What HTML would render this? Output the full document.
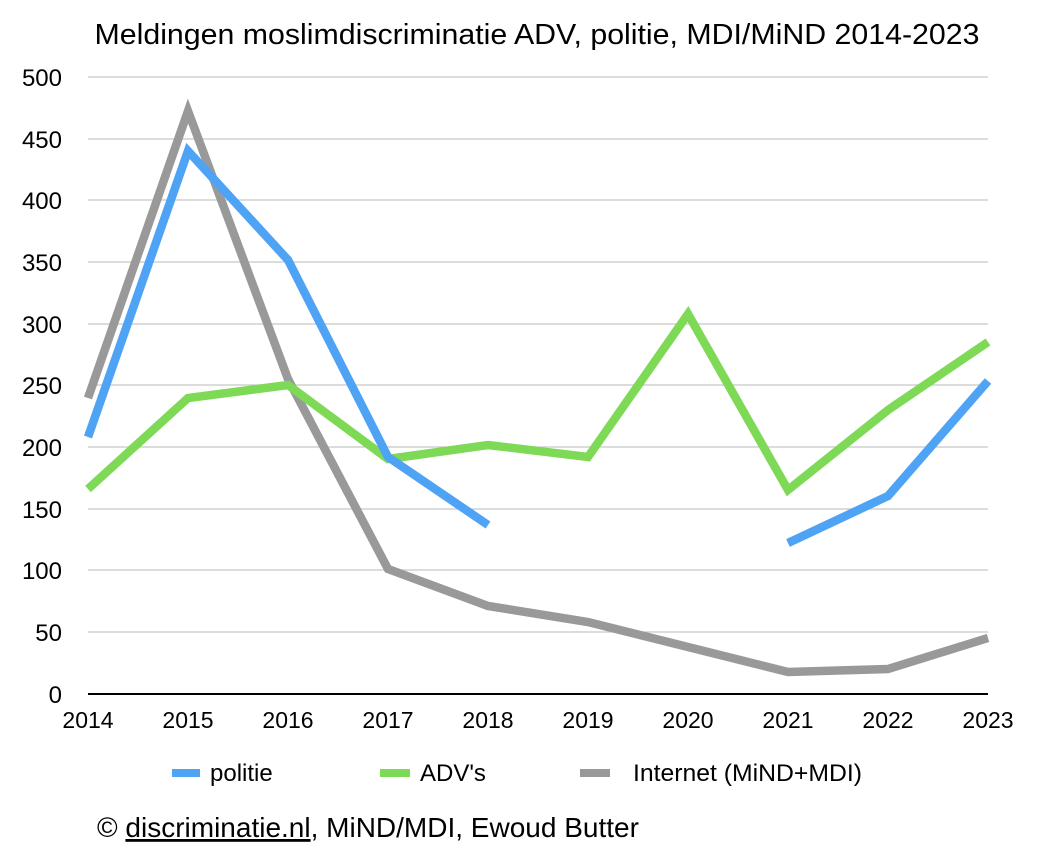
<!DOCTYPE html>
<html><head><meta charset="utf-8"><style>
body{margin:0;background:#fff}
svg text{font-family:"Liberation Sans",Arial,sans-serif;fill:#000}
</style></head><body>
<svg width="1056" height="858" viewBox="0 0 1056 858" xmlns="http://www.w3.org/2000/svg">
<text x="537" y="44" font-size="29" text-anchor="middle" textLength="885" lengthAdjust="spacingAndGlyphs">Meldingen moslimdiscriminatie ADV, politie, MDI/MiND 2014-2023</text>
<g stroke="#c8c8c8" stroke-width="1.2">
<line x1="88" x2="988" y1="77" y2="77"/><line x1="88" x2="988" y1="139" y2="139"/>
<line x1="88" x2="988" y1="200" y2="200"/><line x1="88" x2="988" y1="262" y2="262"/>
<line x1="88" x2="988" y1="324" y2="324"/><line x1="88" x2="988" y1="385" y2="385"/>
<line x1="88" x2="988" y1="447" y2="447"/><line x1="88" x2="988" y1="509" y2="509"/>
<line x1="88" x2="988" y1="570" y2="570"/><line x1="88" x2="988" y1="632" y2="632"/>
</g>
<line x1="88" x2="988" y1="694" y2="694" stroke="#000" stroke-width="2"/>
<g font-size="24" text-anchor="end">
<text x="62" y="86">500</text><text x="62" y="148">450</text><text x="62" y="209">400</text>
<text x="62" y="271">350</text><text x="62" y="333">300</text><text x="62" y="394">250</text>
<text x="62" y="456">200</text><text x="62" y="518">150</text><text x="62" y="579">100</text>
<text x="62" y="641">50</text><text x="62" y="703">0</text>
</g>
<g font-size="23" text-anchor="middle">
<text x="88" y="728">2014</text><text x="188" y="728">2015</text><text x="288" y="728">2016</text>
<text x="388" y="728">2017</text><text x="488" y="728">2018</text><text x="588" y="728">2019</text>
<text x="688" y="728">2020</text><text x="788" y="728">2021</text><text x="888" y="728">2022</text>
<text x="988" y="728">2023</text>
</g>
<g fill="none" stroke-width="8.5" stroke-linejoin="miter">
<polyline stroke="#999999" points="88,398 188,111 288,379 388,569 488,606 588,622 688,647 788,672 888,669 988,638"/>
<polyline stroke="#7ed957" points="88,489 188,398 288,385 388,459 488,445 588,457 688,314 788,490 888,410 988,342"/>
<polyline stroke="#4ea3f5" points="88,437 188,151 288,260 388,457 488,525"/>
<polyline stroke="#4ea3f5" points="788,543 888,496 988,381"/>
</g>
<g stroke-width="8">
<line x1="172" x2="200" y1="773" y2="773" stroke="#4ea3f5"/>
<line x1="380" x2="410" y1="773" y2="773" stroke="#7ed957"/>
<line x1="580" x2="610" y1="773" y2="773" stroke="#999999"/>
</g>
<g font-size="24">
<text x="210" y="781">politie</text>
<text x="420" y="781">ADV's</text>
<text x="633" y="781" textLength="229" lengthAdjust="spacingAndGlyphs">Internet (MiND+MDI)</text>
</g>
<text x="97" y="837" font-size="28">© <tspan text-decoration="underline">discriminatie.nl</tspan>, MiND/MDI, Ewoud Butter</text>
</svg>
</body></html>
